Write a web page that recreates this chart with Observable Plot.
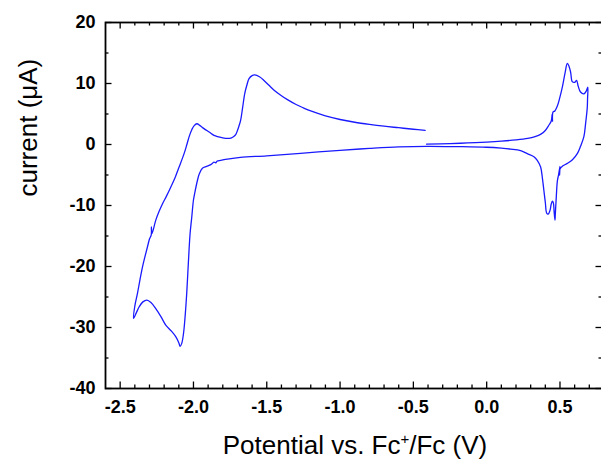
<!DOCTYPE html>
<html><head><meta charset="utf-8">
<script src="https://cdn.jsdelivr.net/npm/d3@7"></script>
<script src="https://cdn.jsdelivr.net/npm/@observablehq/plot@0.6"></script>
<style>body{margin:0;background:#fff;} svg{display:block}</style>
</head><body><div id="chart"></div>
<script>
// Cyclic voltammogram, time order (start at -0.41 V, scan positive, reverse, scan negative, reverse)
const potential = [
  -0.41,-0.25,-0.13,0.0,0.1,0.2,0.28,0.33,0.37,0.40,0.425,0.44,0.447,0.449,0.452,0.465,0.482,0.50,0.516,0.535,0.55,0.562,0.573,0.584,0.60,0.613,0.625,0.64,0.663,0.68,0.69,
  0.688,0.686,0.675,0.663,0.64,0.618,0.585,0.55,0.52,0.50,0.497,0.50,0.49,0.482,0.475,0.468,0.466,0.46,0.455,0.448,0.44,0.432,0.42,0.41,0.40,0.39,0.38,0.368,0.345,0.322,0.277,0.231,0.163,0.1,0.0,-0.2,-0.41,-0.6,
  -0.8,-1.0,-1.27,-1.5,-1.68,-1.77,-1.814,-1.84,-1.848,-1.86,-1.882,-1.91,-1.939,-1.96,-1.973,-1.99,-2.0,-2.012,-2.023,-2.035,-2.046,-2.058,-2.068,-2.08,-2.091,-2.10,-2.121,-2.15,-2.189,-2.22,-2.257,-2.29,-2.318,-2.345,-2.37,-2.39,-2.409,
  -2.40,-2.382,-2.365,-2.348,-2.33,-2.314,-2.30,-2.288,-2.287,-2.283,-2.257,-2.235,-2.211,-2.185,-2.155,-2.125,-2.098,-2.064,-2.045,-2.03,-2.01,-1.995,-1.977,-1.955,-1.928,-1.89,-1.86,-1.80,-1.768,-1.74,-1.725,-1.712,-1.70,-1.69,-1.678,-1.665,-1.65,-1.635,-1.621,-1.60,-1.582,-1.55,-1.519,-1.485,-1.45,-1.40,-1.359,-1.30,-1.25,-1.2,-1.1,-1.0,-0.9,-0.8,-0.7,-0.6,-0.5,-0.42
];
const current = [
  0.05,0.15,0.25,0.4,0.55,0.75,1.0,1.3,1.7,2.3,3.2,3.8,5.0,3.8,5.3,5.5,6.3,7.8,9.4,11.8,13.3,12.8,11.8,10.3,10.2,10.5,9.5,8.6,8.3,8.8,9.4,
  7.5,6.0,3.5,1.3,-0.3,-1.5,-2.5,-3.1,-3.5,-4.0,-5.0,-3.6,-5.0,-6.0,-8.5,-11.5,-12.4,-11.0,-9.6,-9.3,-9.8,-10.8,-11.4,-11.3,-9.5,-7.5,-5.5,-3.7,-2.6,-2.0,-1.5,-1.0,-0.75,-0.6,-0.45,-0.35,-0.3,-0.4,
  -0.65,-0.95,-1.45,-1.85,-2.1,-2.4,-2.6,-2.75,-3.0,-2.9,-3.3,-3.6,-3.9,-4.8,-5.9,-7.8,-9.1,-12,-14.6,-19.5,-24.4,-28.5,-31,-32.6,-33.1,-32.5,-31.5,-30.6,-29.6,-28.3,-26.9,-25.9,-25.5,-25.8,-26.6,-27.6,-28.5,
  -26.5,-24.4,-22.2,-20.1,-18.3,-16.8,-15.5,-14.8,-13.5,-14.6,-12.4,-11.0,-9.7,-8.5,-7.0,-5.4,-3.7,-1.5,0.0,1.25,2.5,3.1,3.4,3.1,2.6,2.0,1.5,1.1,1.0,1.1,1.3,1.6,2.3,3.0,4.0,6.0,8.4,9.8,10.8,11.3,11.4,11.1,10.5,9.7,8.9,8.0,7.35,6.55,6.0,5.5,4.7,4.1,3.65,3.3,3.0,2.75,2.5,2.3
];
const xMajorTicks = [-2.5,-2.0,-1.5,-1.0,-0.5,0.0,0.5];
const xMinorTicks = [-2.4,-2.3,-2.2,-2.1,-1.9,-1.8,-1.7,-1.6,-1.4,-1.3,-1.2,-1.1,-0.9,-0.8,-0.7,-0.6,-0.4,-0.3,-0.2,-0.1,0.1,0.2,0.3,0.4,0.6,0.7];
const yMajorTicks = [-40,-30,-20,-10,0,10,20];
const yMinorTicks = [-35,-25,-15,-5,5,15];
const xTitle = "Potential vs. Fc+/Fc (V)";
const yTitle = "current (μA)";

const data = potential.map((x, i) => ({x, y: current[i]}));
const W = 601, H = 461, mL = 105, mR = -1, mT = 22, mB = 73;
const innerH = H - mT - mB, innerW = W - mL - mR;
const major = 6.5, minor = 3.5;
const tickStyle = {stroke: "#000", strokeWidth: 1.3};

const plot = Plot.plot({
  width: W, height: H,
  marginLeft: mL, marginRight: mR, marginTop: mT, marginBottom: mB,
  x: {domain: [-2.6, 0.79]},
  y: {domain: [-40, 20]},
  style: {fontFamily: "'Liberation Sans', Arial, sans-serif", background: "#fff", overflow: "visible"},
  marks: [
    Plot.line(data, {x: "x", y: "y", stroke: "#1a1aff", strokeWidth: 1.3, curve: "catmull-rom"}),
    Plot.tickX(xMajorTicks, {x: d => d, insetTop: innerH - major, ...tickStyle}),
    Plot.tickX(xMinorTicks, {x: d => d, insetTop: innerH - minor, ...tickStyle}),
    Plot.tickX(xMajorTicks, {x: d => d, insetBottom: innerH - major, ...tickStyle}),
    Plot.tickX(xMinorTicks, {x: d => d, insetBottom: innerH - minor, ...tickStyle}),
    Plot.tickY(yMajorTicks, {y: d => d, insetRight: innerW - major, ...tickStyle}),
    Plot.tickY(yMinorTicks, {y: d => d, insetRight: innerW - minor, ...tickStyle}),
    Plot.tickY(yMajorTicks, {y: d => d, insetLeft: innerW - major, ...tickStyle}),
    Plot.tickY(yMinorTicks, {y: d => d, insetLeft: innerW - minor, ...tickStyle}),
    Plot.frame({stroke: "#000", strokeWidth: 1.8}),
    Plot.axisX(xMajorTicks, {anchor: "bottom", tickSize: 0, tickPadding: 12, tickFormat: d => d.toFixed(1), fontSize: 18, fontWeight: "bold", label: null}),
    Plot.axisY(yMajorTicks, {anchor: "left", tickSize: 0, tickPadding: 10, tickFormat: d => String(d), fontSize: 18, fontWeight: "bold", label: null}),
    Plot.text([xTitle], {text: d => d, frameAnchor: "bottom", dx: 1, dy: 65, lineAnchor: "bottom", fontSize: 26}),
    Plot.text([yTitle], {text: d => d, frameAnchor: "left", rotate: -90, dx: -69, dy: -9, lineAnchor: "bottom", fontSize: 26})
  ]
});
document.getElementById("chart").appendChild(plot);

// superscript "+" in the x title
plot.querySelectorAll("text").forEach(t => {
  if (t.textContent === xTitle) {
    t.textContent = "";
    const ns = "http://www.w3.org/2000/svg";
    const a = document.createElementNS(ns, "tspan"); a.textContent = "Potential vs. Fc";
    const b = document.createElementNS(ns, "tspan"); b.textContent = "+"; b.setAttribute("font-size", "15"); b.setAttribute("dy", "-10");
    const c = document.createElementNS(ns, "tspan"); c.textContent = "/Fc (V)"; c.setAttribute("dy", "10");
    t.append(a, b, c);
  }
});
</script>
</body></html>
